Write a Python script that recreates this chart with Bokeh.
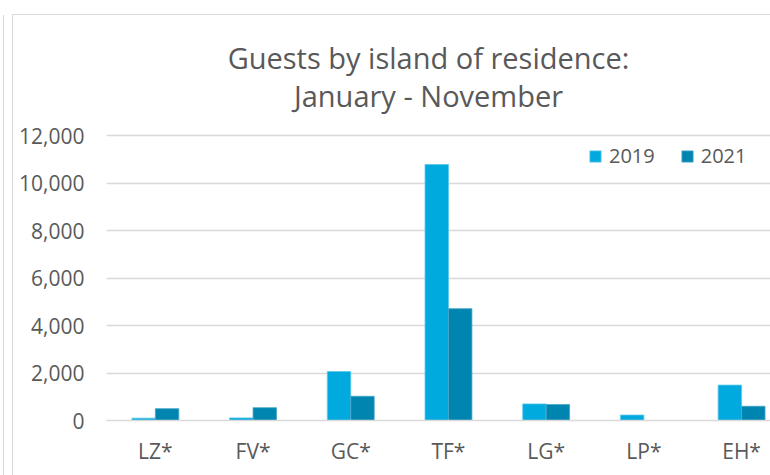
from bokeh.plotting import figure
from bokeh.models import Range1d, FixedTicker, NumeralTickFormatter, Legend, LegendItem, Label, ColumnDataSource
from bokeh.embed import file_html
from bokeh.resources import INLINE

categories = ["LZ*", "FV*", "GC*", "TF*", "LG*", "LP*", "EH*"]
guests_2019 = [100, 110, 2060, 10780, 700, 230, 1490]
guests_2021 = [500, 540, 1020, 4710, 675, 0, 600]
y_ticks = [0, 2000, 4000, 6000, 8000, 10000, 12000]
title_lines = ["Guests by island of residence:", "January - November"]

C2019 = "#00a9de"
C2021 = "#0085b0"
GREY = "#595959"
GRID = "#d9d9d9"
FONT = "Open Sans"

centers = [i + 0.5 for i in range(len(categories))]
bw = 0.24
src = ColumnDataSource(dict(
    x19=[c - bw / 2 for c in centers],
    x21=[c + bw / 2 for c in centers],
    y19=guests_2019,
    y21=guests_2021,
))

# frame spans the full top of the chart so the title can sit inside it;
# the 0..12000 axis occupies the lower 285 px of the 405 px frame
y_top = y_ticks[-1] * 405 / 285

p = figure(width=757, height=460, output_backend="svg", toolbar_location=None,
           x_range=Range1d(0, 6.796), y_range=Range1d(0, y_top),
           min_border_left=93, min_border_right=0, min_border_top=0, min_border_bottom=55,
           styles={"margin-left": "13px", "margin-top": "15px",
                   "outline": "1px solid #d9d9d9",
                   "box-shadow": "-9px 0 0 0 #ffffff, -10px 0 0 0 #d9d9d9"})
p.outline_line_color = None
p.background_fill_color = "white"
p.border_fill_color = "white"

r19 = p.vbar(x="x19", top="y19", width=bw, bottom=0, source=src,
             fill_color=C2019, line_color="#5cc8ea", line_width=0.8)
r21 = p.vbar(x="x21", top="y21", width=bw, bottom=0, source=src,
             fill_color=C2021, line_color="#4aa6c6", line_width=0.8)

# axes
p.yaxis.ticker = FixedTicker(ticks=y_ticks)
p.yaxis.formatter = NumeralTickFormatter(format="0,0")
p.yaxis.axis_line_color = None
p.yaxis.major_tick_line_color = None
p.yaxis.minor_tick_line_color = None
p.yaxis.major_label_standoff = 16
p.yaxis.major_label_text_font = FONT
p.yaxis.major_label_text_font_size = "21px"
p.yaxis.major_label_text_color = GREY

p.xaxis.ticker = FixedTicker(ticks=centers)
p.xaxis.major_label_overrides = {c: lab for c, lab in zip(centers, categories)}
p.xaxis.axis_line_color = GRID
p.xaxis.axis_line_width = 1.5
p.xaxis.major_tick_line_color = None
p.xaxis.minor_tick_line_color = None
p.xaxis.major_label_standoff = 10
p.xaxis.major_label_text_font = FONT
p.xaxis.major_label_text_font_size = "21px"
p.xaxis.major_label_text_color = GREY

p.xgrid.grid_line_color = None
p.ygrid.grid_line_color = GRID
p.ygrid.grid_line_width = 1.5
p.ygrid.ticker = FixedTicker(ticks=y_ticks)

legend = Legend(items=[LegendItem(label="2019", renderers=[r19]),
                       LegendItem(label="2021", renderers=[r21])],
                orientation="horizontal", location=(482, 251))
legend.border_line_color = None
legend.background_fill_alpha = 0
legend.padding = 0
legend.margin = 0
legend.spacing = 25
legend.glyph_width = 14
legend.glyph_height = 14
legend.label_height = 14
legend.label_standoff = 7
legend.label_text_font = FONT
legend.label_text_font_size = "20px"
legend.label_text_color = GREY
legend.label_text_baseline = "middle"
p.add_layout(legend)

# two-line chart title (screen px from the frame's bottom-left corner)
for txt, ybase in zip(title_lines, [363, 325]):
    p.add_layout(Label(x=322, y=ybase, x_units="screen", y_units="screen", text=txt,
                       text_align="center", text_baseline="alphabetic", text_font=FONT,
                       text_font_size="29px", text_color=GREY))

open("out.html", "w").write(file_html(p, INLINE))
